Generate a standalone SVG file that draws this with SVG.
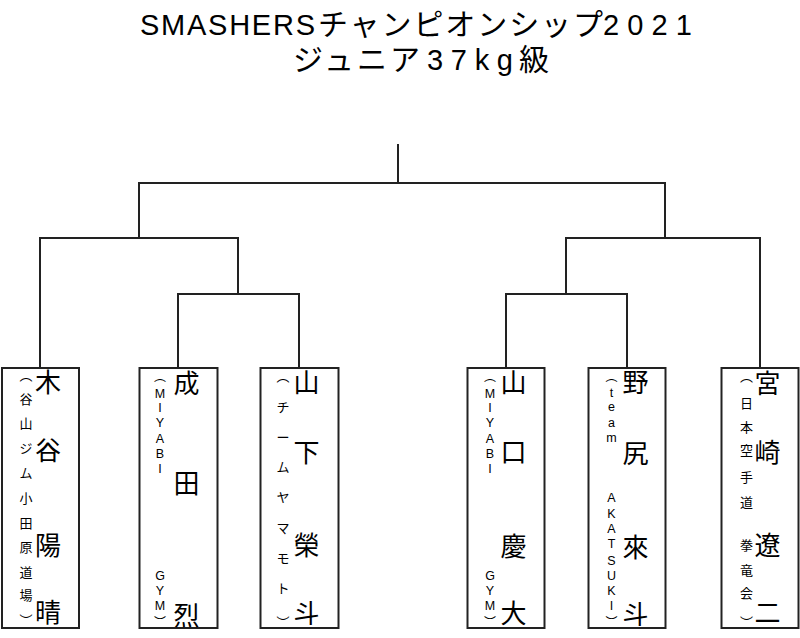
<svg xmlns="http://www.w3.org/2000/svg" width="800" height="638" viewBox="0 0 800 638">
<style>
  .bg { fill: #ffffff; }
  .ttl { font-family: "Liberation Sans", "Noto Sans CJK JP", sans-serif; font-size: 30px; fill: #000; }
  .lat { font-size: 29px; }
  .box { fill: #ffffff; stroke: #222; stroke-width: 2; }
  .line { fill: none; stroke: #222; stroke-width: 2; stroke-linecap: square; }
  .name { font-family: "Noto Sans CJK JP", sans-serif; font-size: 26px; fill: #000; text-anchor: middle; }
  .aff { font-family: "Noto Sans CJK JP", sans-serif; font-size: 13px; fill: #000; text-anchor: middle; }
  .affl { font-family: "Liberation Sans", "Noto Sans CJK JP", sans-serif; font-size: 12.5px; fill: #000; text-anchor: middle; }
  .par { font-family: "Noto Sans CJK JP", sans-serif; font-size: 12px; }
</style>
<rect class="bg" x="0" y="0" width="800" height="638"/>
<g id="title">
  <text class="ttl" x="140" y="35"><tspan class="lat" x="140" textLength="175" lengthAdjust="spacing">SMASHERS</tspan><tspan x="318" textLength="285" lengthAdjust="spacing">チャンピオンシップ</tspan><tspan class="lat" x="603" textLength="89" lengthAdjust="spacing">2021</tspan></text>
  <text class="ttl" x="293" y="70"><tspan x="293" textLength="127" lengthAdjust="spacing">ジュニア</tspan><tspan class="lat" x="427" textLength="86" lengthAdjust="spacing">37kg</tspan><tspan x="519">級</tspan></text>
</g>
<g id="connectors">
  <path class="line" d="M398 145 V183"/>
  <path class="line" d="M139 238 V183 H665 V238"/>
  <path class="line" d="M40 368 V238 H238 V294"/>
  <path class="line" d="M178 368 V294 H299 V368"/>
  <path class="line" d="M566 294 V238 H760 V368"/>
  <path class="line" d="M506 368 V294 H627 V368"/>
</g>
<g id="node-kitani">
  <rect class="box" x="2" y="368" width="77" height="260"/>
  <text class="name"><tspan x="48" y="392">木</tspan><tspan x="48" y="460">谷</tspan><tspan x="48" y="555">陽</tspan><tspan x="48" y="622">晴</tspan></text>
  <text class="aff"><tspan x="26" y="380">︵</tspan><tspan x="26" y="404">谷</tspan><tspan x="26" y="428">山</tspan><tspan x="26" y="453">ジ</tspan><tspan x="26" y="478">ム</tspan><tspan x="26" y="503">小</tspan><tspan x="26" y="528">田</tspan><tspan x="26" y="552">原</tspan><tspan x="26" y="577">道</tspan><tspan x="26" y="600">場</tspan><tspan x="26" y="625">︶</tspan></text>
</g>
<g id="node-narita">
  <rect class="box" x="139.5" y="368" width="78" height="260"/>
  <text class="name"><tspan x="186.5" y="393">成</tspan><tspan x="186.5" y="493">田</tspan><tspan x="186.5" y="625">烈</tspan></text>
  <text class="affl"><tspan class="par" x="160" y="381">︵</tspan><tspan x="160" y="398">M</tspan><tspan x="160" y="412">I</tspan><tspan x="160" y="427">Y</tspan><tspan x="160" y="443">A</tspan><tspan x="160" y="458">B</tspan><tspan x="160" y="473">I</tspan><tspan x="160" y="580">G</tspan><tspan x="160" y="595">Y</tspan><tspan x="160" y="610">M</tspan><tspan class="par" x="160" y="627">︶</tspan></text>
</g>
<g id="node-yamashita">
  <rect class="box" x="260.5" y="368" width="78" height="260"/>
  <text class="name"><tspan x="306.5" y="392">山</tspan><tspan x="306.5" y="462">下</tspan><tspan x="306.5" y="555">榮</tspan><tspan x="306.5" y="623">斗</tspan></text>
  <text class="aff"><tspan x="283" y="381">︵</tspan><tspan x="283" y="412">チ</tspan><tspan x="283" y="442">ー</tspan><tspan x="283" y="472">ム</tspan><tspan x="283" y="502">ヤ</tspan><tspan x="283" y="533">マ</tspan><tspan x="283" y="563">モ</tspan><tspan x="283" y="593">ト</tspan><tspan x="283" y="627">︶</tspan></text>
</g>
<g id="node-yamaguchi">
  <rect class="box" x="467.5" y="368" width="77" height="260"/>
  <text class="name"><tspan x="513.5" y="392">山</tspan><tspan x="513.5" y="462">口</tspan><tspan x="513.5" y="556">慶</tspan><tspan x="513.5" y="623">大</tspan></text>
  <text class="affl"><tspan class="par" x="490" y="381">︵</tspan><tspan x="490" y="398">M</tspan><tspan x="490" y="412">I</tspan><tspan x="490" y="427">Y</tspan><tspan x="490" y="443">A</tspan><tspan x="490" y="458">B</tspan><tspan x="490" y="473">I</tspan><tspan x="490" y="580">G</tspan><tspan x="490" y="595">Y</tspan><tspan x="490" y="610">M</tspan><tspan class="par" x="490" y="627">︶</tspan></text>
</g>
<g id="node-nojiri">
  <rect class="box" x="588.5" y="368" width="77" height="260"/>
  <text class="name"><tspan x="635.5" y="392">野</tspan><tspan x="635.5" y="463">尻</tspan><tspan x="635.5" y="557">來</tspan><tspan x="635.5" y="624">斗</tspan></text>
  <text class="affl"><tspan class="par" x="611.5" y="381">︵</tspan><tspan x="611.5" y="397">t</tspan><tspan x="611.5" y="411">e</tspan><tspan x="611.5" y="427">a</tspan><tspan x="611.5" y="442">m</tspan><tspan x="611.5" y="502">A</tspan><tspan x="611.5" y="518">K</tspan><tspan x="611.5" y="533">A</tspan><tspan x="611.5" y="548">T</tspan><tspan x="611.5" y="565">S</tspan><tspan x="611.5" y="580">U</tspan><tspan x="611.5" y="595">K</tspan><tspan x="611.5" y="610">I</tspan><tspan class="par" x="611.5" y="627">︶</tspan></text>
</g>
<g id="node-miyazaki">
  <rect class="box" x="721.5" y="368" width="77" height="260"/>
  <text class="name"><tspan x="767.5" y="393">宮</tspan><tspan x="767.5" y="462">崎</tspan><tspan x="767.5" y="555">遼</tspan><tspan x="767.5" y="622">二</tspan></text>
  <text class="aff"><tspan x="746.5" y="381">︵</tspan><tspan x="746.5" y="408">日</tspan><tspan x="746.5" y="432">本</tspan><tspan x="746.5" y="455">空</tspan><tspan x="746.5" y="482">手</tspan><tspan x="746.5" y="507">道</tspan><tspan x="746.5" y="550">拳</tspan><tspan x="746.5" y="575">竜</tspan><tspan x="746.5" y="598">会</tspan><tspan x="746.5" y="627">︶</tspan></text>
</g>
</svg>
